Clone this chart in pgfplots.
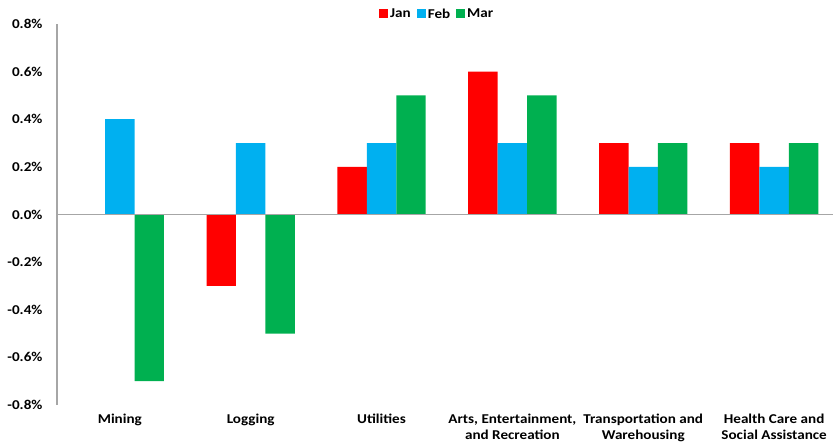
\documentclass[border=0pt]{standalone}
\usepackage{pgfplots}
\pgfplotsset{compat=1.18}
\usepackage{fontspec}
\setmainfont{Carlito}[FakeStretch=1.12]
\definecolor{cJan}{RGB}{255,0,0}
\definecolor{cFeb}{RGB}{0,176,240}
\definecolor{cMar}{RGB}{0,176,80}
\definecolor{axgray}{RGB}{166,166,166}
\begin{document}
\begin{tikzpicture}
\begin{axis}[
  name=ax,
  scale only axis,
  width=776pt, height=381pt,
  ybar=0pt,
  bar width=0.225,
  xmin=-0.48, xmax=5.45,
  ymin=-0.8, ymax=0.8,
  ytick={-0.8,-0.6,...,0.8},
  yticklabel={\pgfmathprintnumber[fixed,fixed zerofill,precision=1]{\tick}\%},
  /pgf/number format/assume math mode=true,
  axis lines*=left,
  x axis line style={draw=none},
  y axis line style={draw=axgray, line width=1.5pt},
  xtick={0,1,2,3,4,5},
  xticklabels={Mining,Logging,Utilities,{Arts, Entertainment,\\and Recreation},{Transportation and\\Warehousing},{Health Care and\\Social Assistance}},
  xticklabel style={align=center, font=\bfseries\fontsize{13.5}{16.5}\selectfont, yshift=-1pt},
  yticklabel style={font=\bfseries\fontsize{13.5}{16}\selectfont, xshift=-11pt},
  xtick style={draw=none}, ytick style={draw=none},
  legend style={at={(0.49,1.0)}, anchor=south, draw=none, legend columns=-1,
    font=\bfseries\fontsize{13.5}{16}\selectfont,
    /tikz/every even column/.append style={column sep=4pt}},
  legend image code/.code={\fill[#1] (0pt,-4pt) rectangle (9pt,5pt);},
  after end axis/.code={\draw[axgray, line width=1.5pt] (axis cs:-0.48,0) -- (axis cs:5.45,0);},
  clip=false,
]
\addplot[fill=cJan, draw=none] coordinates {(1,-0.3) (2,0.2) (3,0.6) (4,0.3) (5,0.3)};
\addplot[fill=cFeb, draw=none] coordinates {(0,0.4) (1,0.3) (2,0.3) (3,0.3) (4,0.2) (5,0.2)};
\addplot[fill=cMar, draw=none] coordinates {(0,-0.7) (1,-0.5) (2,0.5) (3,0.5) (4,0.3) (5,0.3)};
\legend{Jan,Feb,Mar}
\end{axis}
\pgfresetboundingbox
\path[use as bounding box] ([xshift=-57pt,yshift=-38pt]ax.south west) rectangle ([yshift=24pt]ax.north east);
\end{tikzpicture}
\end{document}
